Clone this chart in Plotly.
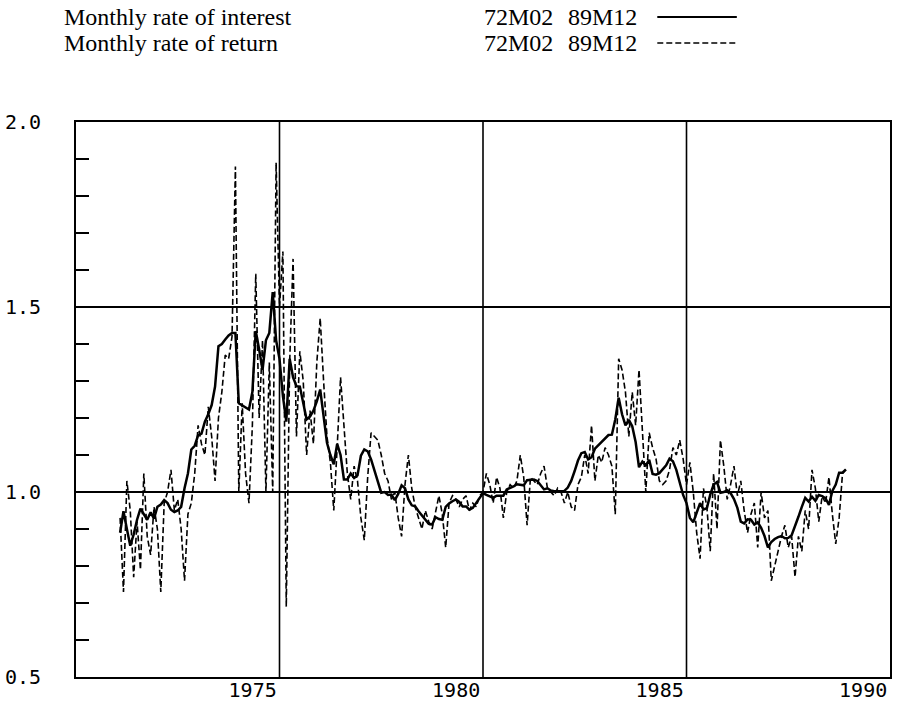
import plotly.graph_objects as go

# ---- data -------------------------------------------------------------
START_YEAR, START_MONTH = 1972, 2

interest = [
    0.890, 0.948, 0.900, 0.855, 0.885, 0.925, 0.955, 0.940, 0.925, 0.945,
    0.928, 0.960, 0.966, 0.978, 0.970, 0.952, 0.946, 0.950, 0.960, 1.010,
    1.050, 1.115, 1.125, 1.153, 1.158, 1.190, 1.210, 1.235, 1.285, 1.394,
    1.400, 1.412, 1.423, 1.430, 1.430, 1.240, 1.234, 1.228, 1.223, 1.270,
    1.435, 1.385, 1.330, 1.410, 1.430, 1.540, 1.410, 1.360, 1.260, 1.190,
    1.360, 1.310, 1.286, 1.285, 1.245, 1.196, 1.204, 1.220, 1.245, 1.277,
    1.205, 1.133, 1.100, 1.075, 1.130, 1.100, 1.034, 1.034, 1.050, 1.038,
    1.045, 1.098, 1.115, 1.110, 1.088, 1.058, 1.022, 0.998, 1.000, 0.992,
    0.993, 0.978, 0.995, 1.018, 1.010, 0.980, 0.964, 0.961, 0.948, 0.936,
    0.924, 0.914, 0.912, 0.932, 0.927, 0.925, 0.960, 0.969, 0.975, 0.980,
    0.973, 0.961, 0.961, 0.952, 0.957, 0.970, 0.982, 0.997, 0.992, 0.987,
    0.984, 0.990, 0.991, 0.990, 1.007, 1.010, 1.015, 1.021, 1.020, 1.018,
    1.032, 1.034, 1.034, 1.030, 1.019, 1.007, 1.010, 1.004, 1.002, 1.002,
    1.002, 1.003, 1.012, 1.030, 1.056, 1.085, 1.105, 1.108, 1.088, 1.094,
    1.117, 1.126, 1.136, 1.145, 1.154, 1.155, 1.196, 1.255, 1.210, 1.180,
    1.195, 1.178, 1.135, 1.067, 1.082, 1.072, 1.087, 1.049, 1.047, 1.051,
    1.061, 1.072, 1.090, 1.083, 1.060, 1.024, 0.992, 0.970, 0.930, 0.918,
    0.943, 0.970, 0.953, 0.956, 0.993, 1.020, 1.027, 0.998, 1.000, 1.005,
    0.997, 0.981, 0.957, 0.920, 0.915, 0.926, 0.925, 0.912, 0.918, 0.903,
    0.881, 0.850, 0.865, 0.873, 0.878, 0.881, 0.875, 0.876, 0.883, 0.911,
    0.933, 0.960, 0.984, 0.974, 0.987, 0.976, 0.992, 0.989, 0.983, 0.965,
    1.003, 1.020, 1.052, 1.052, 1.061,
]

ret = [
    0.93, 0.73, 1.03, 0.95, 0.77, 0.92, 0.79, 1.05, 0.88, 0.83,
    0.96, 0.90, 0.73, 0.97, 1.00, 1.06, 0.95, 0.98, 0.90, 0.76,
    0.94, 0.97, 1.05, 1.18, 1.13, 1.10, 1.23, 1.15, 1.03, 1.20,
    1.27, 1.37, 1.36, 1.42, 1.88, 1.00, 1.24, 1.05, 0.97, 1.18,
    1.59, 1.20, 1.41, 1.00, 1.35, 1.00, 1.89, 1.50, 1.65, 0.69,
    1.35, 1.63, 1.15, 1.38, 1.30, 1.10, 1.22, 1.13, 1.35, 1.47,
    1.30, 1.15, 1.08, 0.95, 1.12, 1.31, 1.18, 1.05, 0.98, 1.07,
    1.03, 0.93, 0.87, 1.04, 1.16, 1.15, 1.14, 1.10, 1.05, 1.03,
    0.98, 1.00, 0.93, 0.88, 1.02, 1.10, 1.01, 0.96, 0.93, 0.90,
    0.95, 0.92, 0.90, 0.95, 0.99, 0.94, 0.85, 0.97, 0.99, 0.98,
    0.96, 0.98, 0.99, 0.95, 0.97, 0.96, 0.99, 1.00, 1.05, 1.02,
    0.97, 1.04, 1.01, 0.93, 1.00, 1.02, 1.01, 1.03, 1.10, 1.04,
    0.91, 1.04, 1.03, 1.02, 1.05, 1.07, 1.01, 1.00, 0.99, 1.01,
    1.00, 0.97, 1.00, 0.96, 0.95, 1.02, 1.04, 1.10, 1.05, 1.18,
    1.03, 1.10, 1.08, 1.12, 1.10, 1.07, 0.94, 1.36, 1.33, 1.27,
    1.15, 1.27, 1.18, 1.33, 1.15, 1.00, 1.16, 1.12, 1.09, 1.03,
    1.02, 1.03, 1.06, 1.12, 1.10, 1.14, 1.09, 1.02, 1.08, 1.00,
    0.89, 0.82, 1.01, 0.96, 0.84, 1.05, 0.90, 1.14, 1.07, 0.98,
    1.02, 1.07, 0.99, 1.03, 0.95, 0.89, 0.94, 0.97, 0.85, 1.00,
    0.93, 0.95, 0.76, 0.80, 0.84, 0.88, 0.91, 0.85, 0.88, 0.77,
    0.88, 0.84, 0.95, 0.90, 1.06, 1.01, 0.92, 0.99, 0.97, 1.04,
    0.94, 0.86, 0.93, 1.05, 1.06,
]

X_TICK_YEARS = [1975, 1980, 1985, 1990]
X_GRID_YEARS = [1976, 1981, 1986]
X_RANGE = [1971, 1991]
Y_RANGE = [0.5, 2.0]
Y_TICKS = [0.5, 1.0, 1.5, 2.0]
Y_TICK_TEXT = ["0.5", "1.0", "1.5", "2.0"]
Y_MINOR = [0.6, 0.7, 0.8, 0.9, 1.1, 1.2, 1.3, 1.4, 1.6, 1.7, 1.8, 1.9]

LEGEND_NAMES = ["Monthly rate of interest", "Monthly rate of return"]
LEGEND_FROM = ["72M02", "72M02"]
LEGEND_TO = ["89M12", "89M12"]
LEGEND_DASH = ["solid", "6px,3px"]
LEGEND_WIDTH = [2.5, 1.6]

# ---- figure -----------------------------------------------------------
t = [START_YEAR + (START_MONTH - 1 + k) / 12.0 for k in range(len(interest))]

W, H = 897, 717
ML, MR, MT, MB = 63, 5, 122, 40
PW, PH = W - ML - MR, H - MT - MB


def px_to_paper(px, py):
    return (px - ML) / PW, (H - MB - py) / PH


fig = go.Figure()
fig.add_trace(go.Scatter(
    x=t, y=ret, mode="lines", name=LEGEND_NAMES[1],
    line=dict(color="black", width=LEGEND_WIDTH[1], dash=LEGEND_DASH[1]),
    showlegend=False, hoverinfo="skip"))
fig.add_trace(go.Scatter(
    x=t, y=interest, mode="lines", name=LEGEND_NAMES[0],
    line=dict(color="black", width=LEGEND_WIDTH[0], dash=LEGEND_DASH[0]),
    showlegend=False, hoverinfo="skip"))

tick_font = dict(family="DejaVu Sans Mono", size=20, color="black")

fig.update_xaxes(
    range=X_RANGE, tickmode="array",
    tickvals=[y + 0.34 for y in X_TICK_YEARS],
    ticktext=[str(y) for y in X_TICK_YEARS],
    showgrid=False, zeroline=False, ticks="",
    showline=True, mirror=True, linecolor="black", linewidth=2,
    tickfont=tick_font, ticklabelstandoff=-6)

fig.update_yaxes(
    range=Y_RANGE, tickmode="array", tickvals=Y_TICKS, ticktext=Y_TICK_TEXT,
    showgrid=True, gridcolor="black", gridwidth=1.6, zeroline=False, ticks="",
    showline=True, mirror=True, linecolor="black", linewidth=2,
    minor=dict(tickmode="array", tickvals=Y_MINOR, ticks="inside",
               ticklen=13, tickwidth=1.6, tickcolor="black", showgrid=False),
    tickfont=tick_font, ticklabelstandoff=29)

shapes = []
for g in X_GRID_YEARS:
    shapes.append(dict(type="line", xref="x", yref="paper", x0=g, x1=g,
                       y0=0, y1=1, layer="below",
                       line=dict(color="black", width=1.6)))

annotations = []
legend_font = dict(family="Liberation Serif", size=24, color="black")
row_y = [17, 43]
for k in range(len(LEGEND_NAMES)):
    _, yp = px_to_paper(0, row_y[k])
    for px, txt in [(49, LEGEND_NAMES[k]), (476, LEGEND_FROM[k]),
                    (562, LEGEND_TO[k])]:
        xp, _ = px_to_paper(px, 0)
        annotations.append(dict(x=xp, y=yp, xref="paper", yref="paper",
                                text=txt, showarrow=False, xanchor="left",
                                yanchor="middle", font=legend_font))
    x0, _ = px_to_paper(655, 0)
    x1, _ = px_to_paper(736, 0)
    shapes.append(dict(type="line", xref="paper", yref="paper",
                       x0=x0, x1=x1, y0=yp, y1=yp,
                       line=dict(color="black", width=LEGEND_WIDTH[k] * 0.8,
                                 dash=LEGEND_DASH[k])))

fig.update_layout(
    width=W, height=H,
    margin=dict(l=ML, r=MR, t=MT, b=MB),
    paper_bgcolor="white", plot_bgcolor="white",
    shapes=shapes, annotations=annotations, showlegend=False,
    hovermode=False)

fig.write_html(
    "out.html",
    config={"displayModeBar": False},
    post_script="document.body.style.margin='0px';"
                "document.body.style.padding='0px';")
